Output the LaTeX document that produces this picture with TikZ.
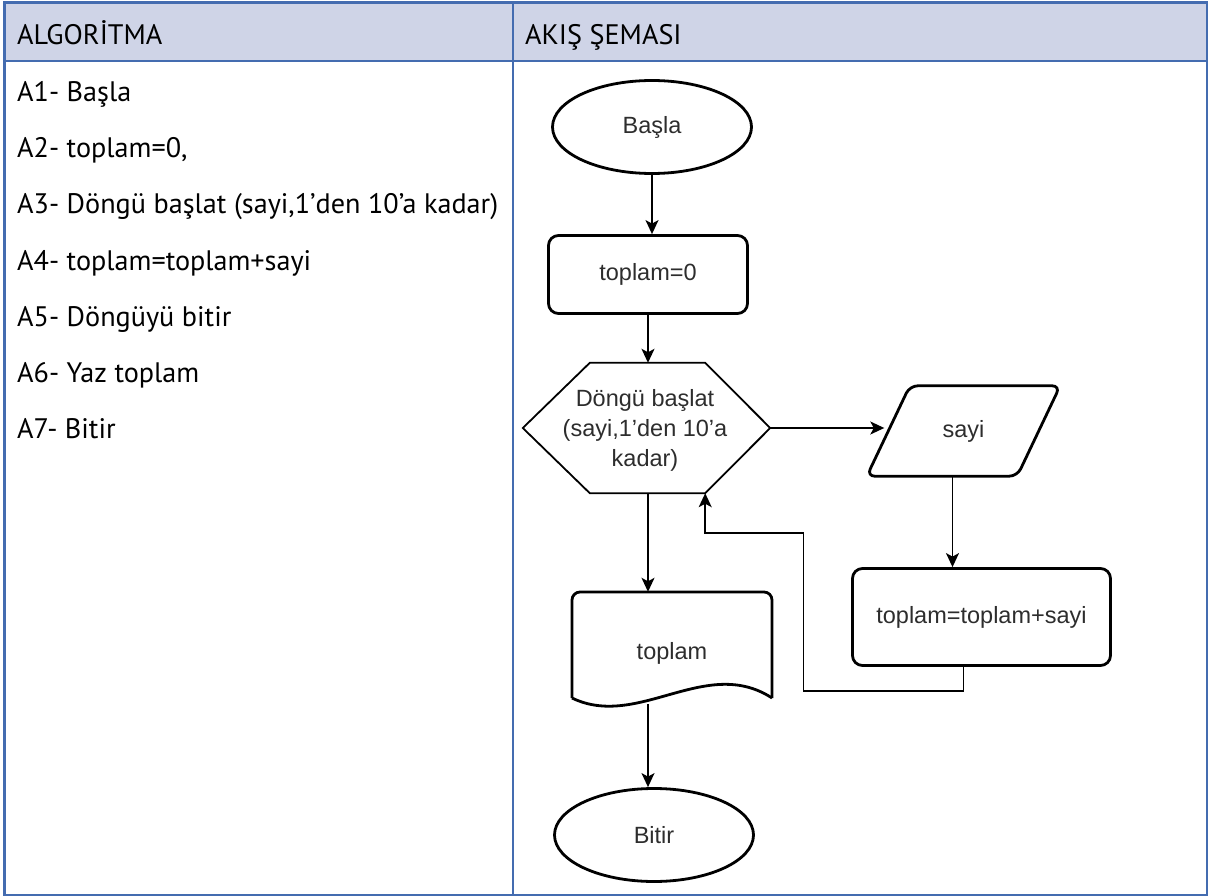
\documentclass[tikz,border=0pt]{standalone}
\usepackage{fontspec}
\setmainfont{PT Sans}
\newfontfamily\fcfont{Liberation Sans}
\usetikzlibrary{arrows.meta,shapes.geometric}
\definecolor{tblue}{RGB}{68,108,176}
\definecolor{hdrfill}{RGB}{207,212,231}
\definecolor{fctext}{RGB}{45,45,45}
\begin{document}
\begin{tikzpicture}[x=1pt,y=-1pt,
  algtext/.style={anchor=base west, inner sep=0pt, font=\fontsize{28.2}{32}\selectfont, text=black},
  fcnode/.style={font=\fcfont\fontsize{23.5}{30}\selectfont, text=fctext, align=center},
  term/.style={fcnode, ellipse, draw, line width=2.8pt, minimum width=199pt, minimum height=93pt, inner sep=0pt},
  proc/.style={fcnode, rectangle, rounded corners=10pt, draw, line width=2.8pt, inner sep=0pt},
  shapeline/.style={line width=2.8pt, line join=round},
  hexline/.style={line width=1.8pt, line join=miter},
  flow/.style={line width=1.5pt, -{Stealth[length=14pt,width=13pt,inset=3.5pt]}},
  tline/.style={draw=tblue}
]
\useasboundingbox (0,0) rectangle (1208,896);
% table
\fill[hdrfill] (4,3) rectangle (1207,61);
\draw[tline, line width=2pt] (4,61) -- (1207,61);
\draw[tline, line width=2pt] (513,3) -- (513,895);
\draw[tline, line width=3pt] (4,3) rectangle (1207,895);
\node[algtext] (h1) at (17,45) {ALGORİTMA};
\node[algtext] (h2) at (525,45) {AKIŞ ŞEMASI};
\node[algtext] (a1) at (17,102) {A1- Başla};
\node[algtext] (a2) at (17,158) {A2- toplam=0,};
\node[algtext] (a3) at (17,214) {A3- Döngü başlat (sayi,1’den 10’a kadar)};
\node[algtext] (a4) at (17,270) {A4- toplam=toplam+sayi};
\node[algtext] (a5) at (17,326) {A5- Döngüyü bitir};
\node[algtext] (a6) at (17,382) {A6- Yaz toplam};
\node[algtext] (a7) at (17,438) {A7- Bitir};
% flowchart
\node[term] (start) at (652,127) {Başla};
\node[proc, minimum width=199pt, minimum height=78pt] (init) at (648,274.5) {toplam=0};
\node[minimum width=115pt, minimum height=130pt, inner sep=0pt] (loop) at (647.5,428) {};
\draw[hexline] ([xshift=-67pt]loop.west) -- (loop.north west) -- (loop.north east) -- ([xshift=65pt]loop.east) -- (loop.south east) -- (loop.south west) -- cycle;
\node[fcnode] (looptxt) at (645,430) {Döngü başlat\\(sayi,1’den 10’a\\kadar)};
\node[fcnode, minimum width=150pt, minimum height=90pt, inner sep=0pt] (sayi) at (963.5,431) {sayi};
\draw[shapeline, rounded corners=8pt] ([xshift=21.5pt]sayi.north west) -- ([xshift=21.5pt]sayi.north east) -- ([xshift=-21.5pt]sayi.south east) -- ([xshift=-21.5pt]sayi.south west) -- cycle;
\node[proc, minimum width=258pt, minimum height=97pt] (upd) at (981.5,617) {toplam=toplam+sayi};
\node[minimum width=200pt, minimum height=112pt, inner sep=0pt] (out) at (672,648) {};
\draw[shapeline, rounded corners=8pt] (572,698) -- (572,592) -- (772,592) -- (772,698);
\draw[shapeline] (772,698) .. controls (706,655) and (638,730) .. (572,698);
\node[fcnode] (outtxt) at (672,653) {toplam};
\node[term] (stop) at (654,835) {Bitir};
% connectors
\draw[flow] (start.south) -- (start.south |- init.north);
\draw[flow] (init.south) -- (init.south |- loop.north);
\draw[flow] ([xshift=65pt]loop.east) -- ([xshift=-4pt]sayi.west |- loop.east);
\draw[flow] ([xshift=-11pt]sayi.south) -- ([xshift=-11pt]sayi.south |- upd.north);
\draw[flow] ([xshift=-18pt]upd.south) -- ++(0,24) -- ++(-160,0) -- ++(0,-158) -| (loop.south east);
\draw[flow] ([xshift=0.5pt]loop.south) -- ([xshift=0.5pt]loop.south |- out.north);
\draw[flow] ([xshift=0.5pt]loop.south |- out.south) -- ([xshift=0.5pt]loop.south |- stop.north);
\end{tikzpicture}
\end{document}
